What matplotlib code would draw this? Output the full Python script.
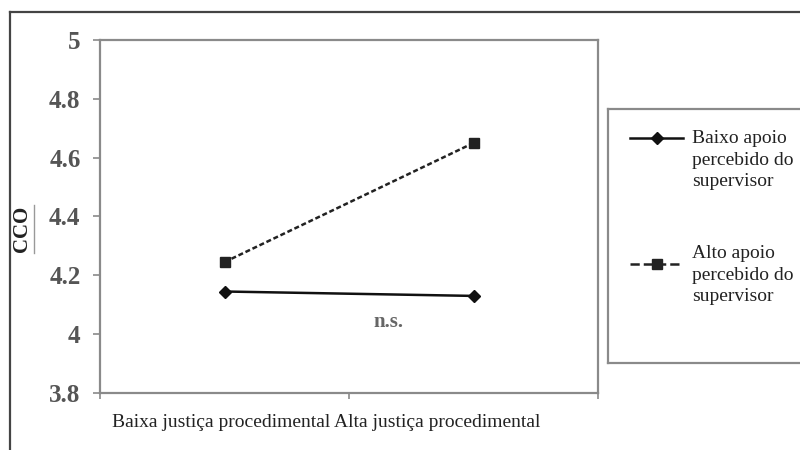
import matplotlib.pyplot as plt
from matplotlib.lines import Line2D

# Dados
categorias = ["Baixa justiça procedimental", "Alta justiça procedimental"]
baixo_apoio = [4.145, 4.13]
alto_apoio = [4.245, 4.65]
rotulos_legenda = ["Baixo apoio\npercebido do\nsupervisor",
                   "Alto apoio\npercebido do\nsupervisor"]
yticks = [3.8, 4, 4.2, 4.4, 4.6, 4.8, 5]
ytick_labels = ["3.8", "4", "4.2", "4.4", "4.6", "4.8", "5"]

plt.rcParams['font.family'] = ['Liberation Serif', 'DejaVu Serif']

fig = plt.figure(figsize=(8, 4.5), dpi=100)
ax = fig.add_axes([0.125, 0.1267, 0.6225, 0.7844])

x = list(range(len(categorias)))
ax.plot(x, baixo_apoio, color="#111111", linewidth=1.8, marker="D",
        markersize=6, label=rotulos_legenda[0])
ax.plot(x, alto_apoio, color="#222222", linewidth=1.8, linestyle=(0, (2.0, 1.1)),
        marker="s", markersize=7.5, label=rotulos_legenda[1])

ax.set_xlim(-0.5, 1.5)
ax.set_ylim(3.8, 5)
ax.set_yticks(yticks)
ax.set_yticklabels(ytick_labels)
ax.set_xticks([-0.5, 0.5, 1.5])
ax.set_xticklabels([])

for s in ax.spines.values():
    s.set_color("#8a8a8a")
    s.set_linewidth(1.6)
ax.tick_params(axis="y", length=5, width=1.2, color="#8a8a8a", pad=9,
               labelsize=18, labelcolor="#555555")
ax.tick_params(axis="x", length=4, width=1.2, color="#8a8a8a")
for lbl in ax.get_yticklabels():
    lbl.set_fontweight("bold")

# Rótulos das categorias
ax.text(0.41, -0.085, " ".join(categorias), transform=ax.get_xaxis_transform(),
        ha="center", va="center", fontsize=14, color="#222222")

ax.text(0.66, 4.04, "n.s.", ha="center", va="center", fontsize=15,
        fontweight="bold", color="#666666")

# Rótulo do eixo y com sublinhado
fig.text(0.028, 0.491, "CCO", rotation=90, ha="center", va="center",
         fontsize=15, fontweight="bold", color="#222222")
fig.add_artist(Line2D([0.0425, 0.0425], [0.438, 0.544], color="#999999", linewidth=1))

# Borda externa
fig.add_artist(Line2D([0.0125, 1.0], [0.973, 0.973], color="#444444", linewidth=1.6))
fig.add_artist(Line2D([0.0125, 0.0125], [0.0, 0.973], color="#444444", linewidth=1.6))

# Legenda desenhada numa caixa à parte
lax = fig.add_axes([0.76, 0.193, 0.24, 0.564])
lax.set_xlim(0, 1)
lax.set_ylim(0, 1)
lax.set_xticks([])
lax.set_yticks([])
for s in lax.spines.values():
    s.set_color("#8a8a8a")
    s.set_linewidth(1.6)
lax.spines["right"].set_visible(False)

linhas = ax.get_lines()
posicoes = [(0.886, 0.80), (0.39, 0.346)]
for linha, rotulo, (ylin, ytxt) in zip(linhas, rotulos_legenda, posicoes):
    lax.add_line(Line2D([0.115, 0.255, 0.39], [ylin, ylin, ylin], color=linha.get_color(),
                        linewidth=linha.get_linewidth(), linestyle=linha.get_linestyle(),
                        marker=linha.get_marker(), markersize=linha.get_markersize(),
                        markevery=[1]))
    lax.text(0.44, ytxt, rotulo, ha="left", va="center", fontsize=14,
             color="#222222", linespacing=1.35)

fig.savefig("out.png", dpi=100)
